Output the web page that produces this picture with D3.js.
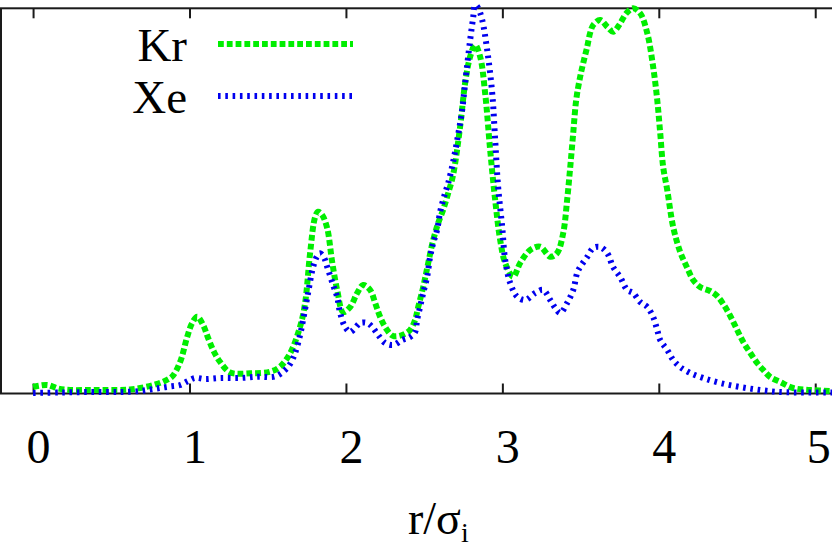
<!DOCTYPE html>
<html>
<head>
<meta charset="utf-8">
<script src="https://cdn.jsdelivr.net/npm/d3@7"></script>
<style>
  body { margin: 0; background: #fff; }
  svg text { font-family: "Liberation Serif", "Times New Roman", Times, "DejaVu Serif", "Noto Serif", serif; fill: #000; }
</style>
</head>
<body>
<div id="chart"></div>
<script>
// 1. Data (r / sigma_i and g(r), arbitrary units):
var seriesNames = ["Kr", "Xe"];
var xTicks = [0, 1, 2, 3, 4, 5];

var rKr = [0.00, 0.045, 0.096, 0.16, 0.237, 0.364, 0.492, 0.62, 0.716, 0.78, 0.831, 0.889, 0.94, 0.985,
  1.017, 1.049, 1.087, 1.119, 1.157, 1.196, 1.26, 1.387, 1.515, 1.579, 1.643, 1.707, 1.739, 1.771,
  1.803, 1.822, 1.848, 1.88, 1.912, 1.944, 1.982, 2.027, 2.072, 2.11, 2.155, 2.187, 2.219, 2.263,
  2.302, 2.359, 2.41, 2.442, 2.462, 2.494, 2.526, 2.558, 2.59, 2.621, 2.654, 2.685, 2.73, 2.762,
  2.794, 2.826, 2.858, 2.89, 2.922, 2.954, 2.986, 3.018, 3.069, 3.114, 3.178, 3.242, 3.306, 3.35,
  3.389, 3.414, 3.434, 3.453, 3.472, 3.497, 3.517, 3.542, 3.561, 3.581, 3.625, 3.67, 3.708, 3.747,
  3.792, 3.836, 3.881, 3.926, 3.964, 3.99, 4.009, 4.028, 4.054, 4.092, 4.137, 4.182, 4.22, 4.264,
  4.328, 4.373, 4.412, 4.457, 4.501, 4.54, 4.585, 4.629, 4.668, 4.712, 4.776, 4.859, 4.968, 5.109];
var gKr = [0.065, 0.08, 0.085, 0.05, 0.035, 0.035, 0.035, 0.04, 0.065, 0.09, 0.118, 0.17, 0.315, 0.565,
  0.705, 0.768, 0.685, 0.555, 0.415, 0.315, 0.21, 0.202, 0.218, 0.268, 0.402, 0.668, 0.905, 1.405,
  1.765, 1.818, 1.785, 1.655, 1.315, 1.035, 0.815, 0.865, 1.005, 1.085, 1.035, 0.905, 0.765, 0.635,
  0.575, 0.585, 0.635, 0.735, 0.865, 1.065, 1.305, 1.535, 1.705, 1.835, 2.005, 2.185, 2.668, 3.105,
  3.368, 3.485, 3.368, 3.002, 2.435, 1.935, 1.535, 1.305, 1.168, 1.305, 1.435, 1.468, 1.368, 1.405,
  1.605, 1.935, 2.265, 2.605, 2.935, 3.165, 3.305, 3.465, 3.605, 3.685, 3.735, 3.668, 3.618, 3.685,
  3.802, 3.852, 3.802, 3.605, 3.265, 2.935, 2.605, 2.265, 2.035, 1.665, 1.415, 1.255, 1.135, 1.065,
  1.025, 0.975, 0.895, 0.775, 0.635, 0.515, 0.405, 0.305, 0.235, 0.165, 0.115, 0.055, 0.035, 0.025];

var rXe = [0.00, 0.173, 0.364, 0.556, 0.684, 0.748, 0.812, 0.876, 0.94, 0.991, 1.036, 1.1, 1.196, 1.324,
  1.439, 1.547, 1.611, 1.643, 1.675, 1.707, 1.726, 1.758, 1.79, 1.816, 1.835, 1.861, 1.88, 1.918,
  1.944, 1.963, 1.995, 2.027, 2.059, 2.091, 2.136, 2.168, 2.206, 2.251, 2.302, 2.359, 2.41, 2.442,
  2.455, 2.474, 2.494, 2.519, 2.538, 2.558, 2.583, 2.602, 2.634, 2.654, 2.685, 2.717, 2.743, 2.762,
  2.794, 2.813, 2.826, 2.845, 2.871, 2.903, 2.935, 2.954, 2.973, 2.999, 3.018, 3.05, 3.095, 3.146,
  3.21, 3.261, 3.306, 3.338, 3.37, 3.414, 3.453, 3.478, 3.497, 3.542, 3.581, 3.625, 3.67, 3.708,
  3.753, 3.798, 3.836, 3.881, 3.926, 3.964, 3.99, 4.009, 4.054, 4.092, 4.137, 4.201, 4.284, 4.393,
  4.52, 4.648, 4.776, 5.109];
var gXe = [0.005, 0.01, 0.015, 0.015, 0.025, 0.04, 0.055, 0.07, 0.085, 0.125, 0.155, 0.145, 0.155, 0.155,
  0.168, 0.17, 0.235, 0.295, 0.405, 0.585, 0.735, 1.005, 1.265, 1.375, 1.402, 1.355, 1.268, 1.085,
  0.965, 0.805, 0.665, 0.615, 0.655, 0.705, 0.705, 0.665, 0.585, 0.505, 0.485, 0.535, 0.565, 0.615,
  0.735, 0.865, 1.005, 1.165, 1.365, 1.505, 1.635, 1.815, 2.005, 2.105, 2.315, 2.585, 2.835, 3.105,
  3.535, 3.755, 3.885, 3.855, 3.735, 3.435, 3.005, 2.535, 2.065, 1.665, 1.335, 1.105, 0.968, 0.935,
  1.005, 1.035, 0.935, 0.855, 0.805, 0.905, 1.035, 1.205, 1.265, 1.365, 1.455, 1.465, 1.405, 1.265,
  1.165, 1.035, 1.005, 0.915, 0.865, 0.765, 0.635, 0.535, 0.435, 0.335, 0.265, 0.205, 0.155, 0.105,
  0.065, 0.035, 0.015, 0.01];

// 2. SVG dimensions and plot area:
var svgWidth = 832;
var svgHeight = 549;
var margin = { top: 8.3, right: -2, bottom: 155.5, left: 1 };
var width = svgWidth - margin.left - margin.right;
var height = svgHeight - margin.top - margin.bottom;

var svg = d3.select("#chart").append("svg")
    .attr("width", svgWidth)
    .attr("height", svgHeight);

var chartGroup = svg.append("g")
    .attr("transform", `translate(${margin.left}, ${margin.top})`);

// 3. Scales:
var xScale = d3.scaleLinear().domain([-0.205, 5.12]).range([0, width]);
var yScale = d3.scaleLinear().domain([0, 3.852]).range([height, 0]);

// 4. Frame and inward ticks (top and bottom):
chartGroup.append("rect")
    .attr("x", 0).attr("y", 0)
    .attr("width", width).attr("height", height)
    .attr("fill", "none")
    .attr("stroke", "#1a1a1a")
    .attr("stroke-width", 2);

var bottomAxis = d3.axisBottom(xScale).tickValues(xTicks).tickSize(-10).tickFormat(d3.format("d"));
var topAxis = d3.axisTop(xScale).tickValues(xTicks).tickSize(-10).tickFormat("");

var xAxis = chartGroup.append("g")
    .attr("transform", `translate(0, ${height})`)
    .attr("font-family", null)
    .call(bottomAxis);
xAxis.select(".domain").remove();
xAxis.selectAll(".tick line").attr("stroke", "#1a1a1a").attr("stroke-width", 2);
xAxis.selectAll(".tick text")
    .attr("font-size", 48)
    .attr("dx", d => d === 5 ? 3 : 5)
    .attr("dy", 0)
    .attr("y", 69.5);

var xTop = chartGroup.append("g").call(topAxis);
xTop.select(".domain").remove();
xTop.selectAll(".tick line").attr("stroke", "#1a1a1a").attr("stroke-width", 2);

// 5. Curves:
var line = d3.line()
    .x(d => xScale(d[0]))
    .y(d => yScale(d[1]))
    .curve(d3.curveCatmullRom.alpha(0.5));

var kr = d3.zip(rKr, gKr);
var xe = d3.zip(rXe, gXe);

var styles = [
  { data: kr, color: "#00ee00", dash: "5.8,3" },
  { data: xe, color: "#0000ee", dash: "2.6,4.7" }
];

styles.forEach(function(s) {
  chartGroup.append("path")
      .datum(s.data)
      .attr("d", line)
      .attr("fill", "none")
      .attr("stroke", s.color)
      .attr("stroke-width", 6)
      .attr("stroke-dasharray", s.dash);
});

// 6. Legend:
var legendY = [44, 96];
seriesNames.forEach(function(name, i) {
  svg.append("text")
      .attr("x", 187)
      .attr("y", legendY[i] + 17)
      .attr("text-anchor", "end")
      .attr("font-size", 47)
      .text(name);
  svg.append("line")
      .attr("x1", 218).attr("x2", 353)
      .attr("y1", legendY[i]).attr("y2", legendY[i])
      .attr("stroke", styles[i].color)
      .attr("stroke-width", 6)
      .attr("stroke-dasharray", styles[i].dash);
});

// 7. Axis label:
var label = svg.append("text")
    .attr("x", 408)
    .attr("y", 534)
    .attr("font-size", 46);
label.append("tspan").text("r/σ");
label.append("tspan").attr("font-size", 28).attr("dy", 8).text("i");
</script>
</body>
</html>
